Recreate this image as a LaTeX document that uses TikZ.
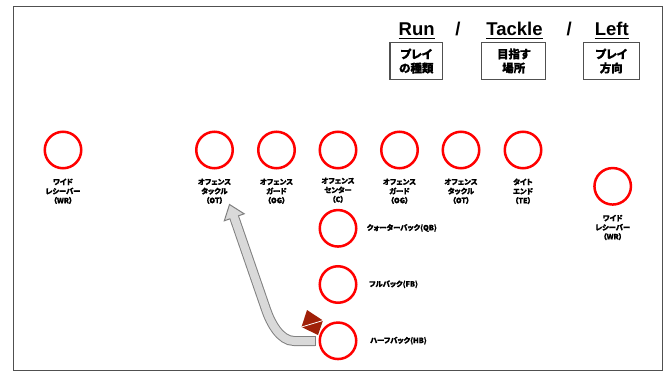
\documentclass[tikz,border=0pt]{standalone}
\usepackage{fontspec}
\setmainfont{Liberation Sans}
\newfontfamily\jp{Noto Sans CJK JP}[RawFeature=+palt, BoldFeatures={FakeBold=0.8}]
\definecolor{blockred}{RGB}{160,32,8}
\definecolor{arrowfill}{RGB}{217,217,217}
\definecolor{arrowline}{RGB}{128,128,128}
\definecolor{framegray}{RGB}{80,80,80}
\begin{document}
\begin{tikzpicture}[x=1pt,y=-1pt]
\tikzset{
  player/.style={circle, draw=red, line width=2.5pt, minimum size=36.5pt, inner sep=0pt},
  plabel/.style={font=\jp\bfseries\fontsize{7.3}{9.3}\selectfont, align=center, inner sep=0pt},
  slabel/.style={font=\jp\bfseries\fontsize{7.3}{9.3}\selectfont, anchor=west, inner sep=0pt},
  head/.style={font=\bfseries\fontsize{18.5}{20}\selectfont, anchor=base, inner sep=0pt},
  uline/.style={line width=1.4pt, black},
  keybox/.style={draw=framegray, line width=1.1pt, minimum height=36.6pt, inner sep=0pt,
    align=center, font=\jp\bfseries\fontsize{11.5}{14}\selectfont},
}
\useasboundingbox (0,0) rectangle (669,372);
\draw[framegray, line width=1.3pt] (13.3,6.5) rectangle (662.7,370.8);

% header
\node[head] (run) at (416.7,35) {Run};
\node[head] (s1) at (458,35) {/};
\node[head] (tackle) at (514.5,35) {Tackle};
\node[head] (s2) at (569.3,35) {/};
\node[head] (left) at (611.7,35) {Left};
\foreach \n in {run,tackle,left}
  \draw[uline] ([yshift=-3.2pt]\n.base west) -- ([yshift=-3.2pt]\n.base east);

\node[keybox, minimum width=52.7pt] (k1) at (416.3,61) {プレイ\\の種類};
\node[keybox, minimum width=64pt] (k2) at (513.7,61) {目指す\\場所};
\node[keybox, minimum width=56pt] (k3) at (611.3,61) {プレイ\\方向};

% players
\node[player] (wrl) at (63,150) {};
\node[player] (otl) at (214.5,150) {};
\node[player] (ogl) at (276.5,150) {};
\node[player] (c) at (338,150) {};
\node[player] (ogr) at (399.5,150) {};
\node[player] (otr) at (461,150) {};
\node[player] (te) at (523,150) {};
\node[player] (wrr) at (612.7,186.3) {};
\node[player] (qb) at (338,228.3) {};
\node[player] (fb) at (338,284.5) {};
\node[player] (hb) at (338,340.8) {};

% labels
\node[plabel] (lwrl) at (63,191.3) {ワイド\\レシーバー\\（WR）};
\node[plabel] (lotl) at (214.5,191.3) {オフェンス\\タックル\\（OT）};
\node[plabel] (logl) at (276.5,191.3) {オフェンス\\ガード\\（OG）};
\node[plabel] (lc) at (338,190.2) {オフェンス\\センター\\（C）};
\node[plabel] (logr) at (399.5,191.3) {オフェンス\\ガード\\（OG）};
\node[plabel] (lotr) at (461,191.3) {オフェンス\\タックル\\（OT）};
\node[plabel] (lte) at (523,191.3) {タイト\\エンド\\（TE）};
\node[plabel] (lwrr) at (612.7,227.5) {ワイド\\レシーバー\\（WR）};
\node[slabel] (lqb) at (366.7,228) {クォーターバック(QB)};
\node[slabel] (lfb) at (369,284.3) {フルバック(FB)};
\node[slabel] (lhb) at (370,340.7) {ハーフバック(HB)};

% run path arrow
\coordinate (tail) at (315,341);
\coordinate (bend) at (294,341);
\coordinate (up) at (266.2,310);
\coordinate (base) at (234.2,217.3);
\coordinate (basein) at (233.7,215.9);
\coordinate (tip) at (229.5,204.5);
\coordinate (barbr) at (244.2,213.8);
\coordinate (barbl) at (224.3,220.8);
\draw[line width=10pt, arrowline, line cap=butt]
  (tail) -- (bend) .. controls (280,341) and (270.4,322.3) .. (up) -- (base);
\filldraw[fill=arrowfill, draw=arrowline, line width=1pt, line join=miter] (barbr) -- (tip) -- (barbl) -- cycle;
\draw[line width=8pt, arrowfill, line cap=butt]
  (tail) -- (bend) .. controls (280,341) and (270.4,322.3) .. (up) -- (basein);
\draw[arrowline, line width=1pt] ([yshift=5pt]tail) -- ([yshift=-5pt]tail);

% block marker
\coordinate (dt) at (307,310);
\coordinate (dr) at (323,320.5);
\coordinate (db) at (318,335);
\coordinate (dl) at (301.5,327);
\fill[blockred] (dt) -- (dr) -- (db) -- (dl) -- cycle;
\draw[white, line width=0.8pt] (dl) -- (dr);
\end{tikzpicture}
\end{document}
